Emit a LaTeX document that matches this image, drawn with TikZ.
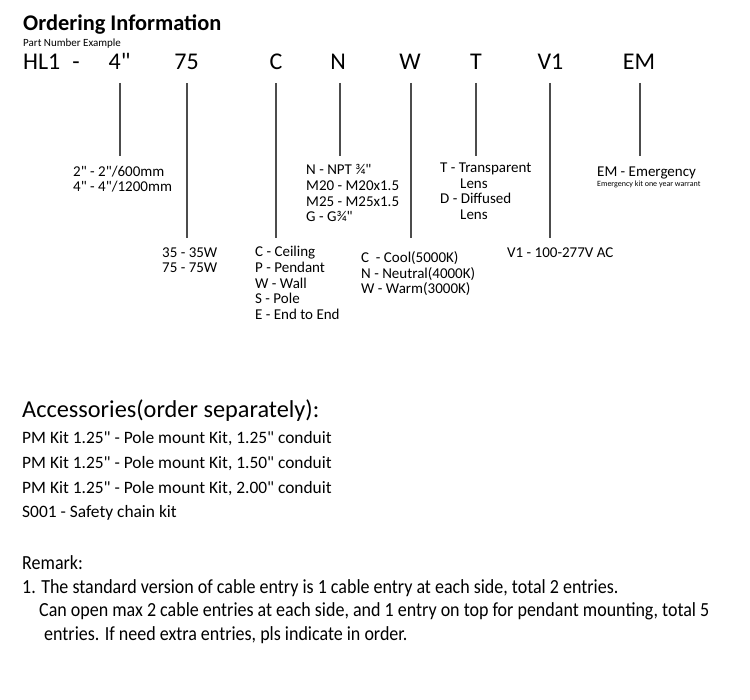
\documentclass[tikz,border=0pt]{standalone}
\usepackage{fontspec}
\setmainfont{Carlito}[Ligatures=TeXOff]
\newfontfamily\condfont{Carlito}[FakeStretch=0.9, Ligatures=TeXOff]
\usetikzlibrary{positioning}

\begin{document}
\begin{tikzpicture}[x=1pt, y=-1pt,
		code/.style={font=\fontsize{24}{24}\selectfont, inner sep=0pt,
			outer ysep=13pt, anchor=base},
		desc/.style={font=\fontsize{15}{15.6}\selectfont, inner sep=0pt,
			anchor=base west, align=left},
		lead/.style={draw=black!70, line width=1.1pt}
	]
		\useasboundingbox[fill=white] (0,0) rectangle (750,700);

		% heading
		\node[anchor=base west, inner sep=0pt, font=\fontsize{22.4}{22.4}\selectfont\bfseries] (title) at (23,31) {Ordering Information};
		\node[anchor=base west, inner sep=0pt, font=\fontsize{11}{11}\selectfont] (example) at (23,46.5) {Part Number Example};

		% part number
		\node[code, anchor=base west] (hl) at (23,70) {HL1};
		\node[code] (dash) at (76,70) {-};
		\node[code] (c4) at (119.5,70) {4"};
		\node[code] (c75) at (186.5,70) {75};
		\node[code] (cC) at (276,70) {C};
		\node[code] (cN) at (338,70) {N};
		\node[code] (cW) at (410,70) {W};
		\node[code] (cT) at (476,70) {T};
		\node[code] (cV) at (550.5,70) {V1};
		\node[code] (cEM) at (639,70) {EM};

		\coordinate (e4) at (120,156);
		\coordinate (e75) at (187,238);
		\coordinate (eC) at (276,238);
		\coordinate (eN) at (340,156);
		\coordinate (eW) at (411,238);
		\coordinate (eT) at (476,156);
		\coordinate (eV) at (550,238);
		\coordinate (eEM) at (640,156);

		\draw[lead] (c4.south -| e4) -- (e4);
		\draw[lead] (c75.south -| e75) -- (e75);
		\draw[lead] (cC.south -| eC) -- (eC);
		\draw[lead] (cN.south -| eN) -- (eN);
		\draw[lead] (cW.south -| eW) -- (eW);
		\draw[lead] (cT.south -| eT) -- (eT);
		\draw[lead] (cV.south -| eV) -- (eV);
		\draw[lead] (cEM.south -| eEM) -- (eEM);

		% options (placed at the baseline of their last line)
		\node[desc] (d4) at (73,191.7) {2" - 2"/600mm\\4" - 4"/1200mm};
		\node[desc] (d75) at (162,272.7) {35 - 35W\\75 - 75W};
		\node[desc] (dC) at (255,319.3) {C - Ceiling\\P - Pendant\\W - Wall\\S - Pole\\E - End to End};
		\node[desc] (dN) at (306,221.7) {N - NPT ¾"\\M20 - M20x1.5\\M25 - M25x1.5\\G - G¾"};
		\node[desc] (dW) at (361,294) {C~ - Cool(5000K)\\N - Neutral(4000K)\\W - Warm(3000K)};
		\node[desc] (dT) at (440,219.3) {T - Transparent\\\hspace*{20pt}Lens\\D - Diffused\\\hspace*{20pt}Lens};
		\node[desc] (dV) at (507,258) {V1 - 100-277V AC};
		\node[desc] (dEM) at (597,177) {EM - Emergency};
		\node[desc, font=\fontsize{8}{8}\selectfont] (dEMnote) at (597,187) {Emergency kit one year warrant};

		% accessories
		\node[anchor=base west, inner sep=0pt, font=\fontsize{24.3}{24.3}\selectfont] (acc) at (22,418) {Accessories(order separately):};
		\node[desc, font=\fontsize{17.4}{24.7}\selectfont] (acclist) at (22,518) {PM Kit 1.25" - Pole mount Kit, 1.25" conduit\\PM Kit 1.25" - Pole mount Kit, 1.50" conduit\\PM Kit 1.25" - Pole mount Kit, 2.00" conduit\\S001 - Safety chain kit};

		% remark
		\node[desc, font=\condfont\fontsize{20}{23.4}\selectfont] (remark) at (22,640) {Remark:\\1. The standard version of cable entry is 1 cable entry at each side, total 2 entries.\\\hspace*{17pt}Can open max 2 cable entries at each side, and 1 entry on top for pendant mounting, total 5\\\hspace*{22pt}entries. If need extra entries, pls indicate in order.};
	\end{tikzpicture}
\end{document}
